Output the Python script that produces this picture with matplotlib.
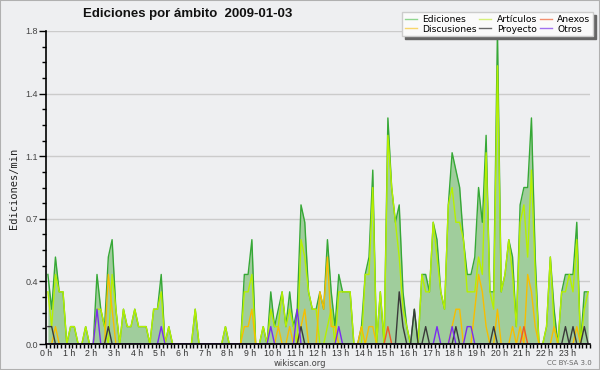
import numpy as np
import matplotlib
matplotlib.use('Agg')
from matplotlib import pyplot as plt
from matplotlib.lines import Line2D
from matplotlib.patches import Rectangle
from matplotlib.ticker import MultipleLocator, FixedLocator

# edits per minute, 10-minute bins over 2009-01-03 (12 bins = 2 hours per row)
ediciones = [
    0.4, 0.2, 0.5, 0.3, 0.3, 0.0, 0.1, 0.1, 0.0, 0.0, 0.1, 0.0,
    0.0, 0.4, 0.2, 0.1, 0.5, 0.6, 0.2, 0.0, 0.2, 0.1, 0.1, 0.2,
    0.1, 0.1, 0.1, 0.0, 0.2, 0.2, 0.4, 0.0, 0.1, 0.0, 0.0, 0.0,
    0.0, 0.0, 0.0, 0.2, 0.0, 0.0, 0.0, 0.0, 0.0, 0.0, 0.0, 0.1,
    0.0, 0.0, 0.0, 0.0, 0.4, 0.4, 0.6, 0.0, 0.0, 0.1, 0.0, 0.3,
    0.1, 0.2, 0.3, 0.1, 0.3, 0.1, 0.2, 0.8, 0.7, 0.3, 0.2, 0.2,
    0.3, 0.2, 0.6, 0.3, 0.1, 0.4, 0.3, 0.3, 0.3, 0.0, 0.0, 0.1,
    0.4, 0.5, 1.0, 0.0, 0.3, 0.0, 1.3, 0.9, 0.7, 0.8, 0.3, 0.1,
    0.0, 0.2, 0.0, 0.4, 0.4, 0.3, 0.7, 0.6, 0.3, 0.2, 0.8, 1.1,
    1.0, 0.9, 0.6, 0.4, 0.4, 0.5, 0.9, 0.7, 1.2, 0.3, 0.3, 1.8,
    0.3, 0.4, 0.6, 0.5, 0.1, 0.8, 0.9, 0.9, 1.3, 0.5, 0.0, 0.0,
    0.1, 0.5, 0.2, 0.0, 0.3, 0.4, 0.4, 0.4, 0.7, 0.0, 0.3, 0.3,
]
articulos = [
    0.3, 0.1, 0.4, 0.3, 0.3, 0.0, 0.1, 0.1, 0.0, 0.0, 0.1, 0.0,
    0.0, 0.2, 0.2, 0.1, 0.0, 0.4, 0.2, 0.0, 0.2, 0.1, 0.1, 0.2,
    0.1, 0.1, 0.1, 0.0, 0.2, 0.2, 0.3, 0.0, 0.1, 0.0, 0.0, 0.0,
    0.0, 0.0, 0.0, 0.2, 0.0, 0.0, 0.0, 0.0, 0.0, 0.0, 0.0, 0.1,
    0.0, 0.0, 0.0, 0.0, 0.3, 0.3, 0.4, 0.0, 0.0, 0.1, 0.0, 0.2,
    0.1, 0.1, 0.3, 0.1, 0.2, 0.1, 0.0, 0.6, 0.5, 0.3, 0.2, 0.2,
    0.0, 0.0, 0.1, 0.2, 0.0, 0.3, 0.3, 0.3, 0.3, 0.0, 0.0, 0.0,
    0.4, 0.4, 0.9, 0.0, 0.3, 0.0, 1.2, 0.9, 0.7, 0.5, 0.2, 0.1,
    0.0, 0.0, 0.0, 0.4, 0.3, 0.3, 0.7, 0.5, 0.3, 0.2, 0.8, 0.9,
    0.7, 0.7, 0.6, 0.3, 0.3, 0.3, 0.5, 0.4, 1.1, 0.3, 0.2, 1.6,
    0.3, 0.4, 0.6, 0.4, 0.1, 0.7, 0.8, 0.5, 1.0, 0.4, 0.0, 0.0,
    0.1, 0.5, 0.1, 0.0, 0.3, 0.3, 0.4, 0.3, 0.6, 0.0, 0.2, 0.3,
]
discusiones = [
    0.0, 0.0, 0.1, 0.0, 0.0, 0.0, 0.0, 0.0, 0.0, 0.0, 0.0, 0.0,
    0.0, 0.0, 0.0, 0.0, 0.4, 0.2, 0.0, 0.0, 0.0, 0.0, 0.0, 0.0,
    0.0, 0.0, 0.0, 0.0, 0.0, 0.0, 0.0, 0.0, 0.0, 0.0, 0.0, 0.0,
    0.0, 0.0, 0.0, 0.0, 0.0, 0.0, 0.0, 0.0, 0.0, 0.0, 0.0, 0.0,
    0.0, 0.0, 0.0, 0.0, 0.1, 0.1, 0.2, 0.0, 0.0, 0.0, 0.0, 0.0,
    0.0, 0.1, 0.0, 0.0, 0.1, 0.0, 0.0, 0.1, 0.2, 0.0, 0.0, 0.0,
    0.3, 0.2, 0.5, 0.1, 0.1, 0.0, 0.0, 0.0, 0.0, 0.0, 0.0, 0.1,
    0.0, 0.1, 0.1, 0.0, 0.0, 0.0, 0.0, 0.0, 0.0, 0.0, 0.0, 0.0,
    0.0, 0.0, 0.0, 0.0, 0.0, 0.0, 0.0, 0.0, 0.0, 0.0, 0.0, 0.1,
    0.2, 0.2, 0.0, 0.0, 0.0, 0.2, 0.4, 0.3, 0.1, 0.0, 0.0, 0.2,
    0.0, 0.0, 0.0, 0.1, 0.0, 0.1, 0.0, 0.4, 0.3, 0.1, 0.0, 0.0,
    0.0, 0.0, 0.1, 0.0, 0.0, 0.0, 0.0, 0.0, 0.1, 0.0, 0.0, 0.0,
]
anexos = [
    0.0, 0.0, 0.0, 0.0, 0.0, 0.0, 0.0, 0.0, 0.0, 0.0, 0.0, 0.0,
    0.0, 0.0, 0.0, 0.0, 0.0, 0.0, 0.0, 0.0, 0.0, 0.0, 0.0, 0.0,
    0.0, 0.0, 0.0, 0.0, 0.0, 0.0, 0.0, 0.0, 0.0, 0.0, 0.0, 0.0,
    0.0, 0.0, 0.0, 0.0, 0.0, 0.0, 0.0, 0.0, 0.0, 0.0, 0.0, 0.0,
    0.0, 0.0, 0.0, 0.0, 0.0, 0.0, 0.0, 0.0, 0.0, 0.0, 0.0, 0.0,
    0.0, 0.0, 0.0, 0.0, 0.0, 0.0, 0.0, 0.0, 0.0, 0.0, 0.0, 0.0,
    0.0, 0.0, 0.0, 0.0, 0.0, 0.0, 0.0, 0.0, 0.0, 0.0, 0.0, 0.0,
    0.0, 0.0, 0.0, 0.0, 0.0, 0.0, 0.1, 0.0, 0.0, 0.0, 0.0, 0.0,
    0.0, 0.0, 0.0, 0.0, 0.0, 0.0, 0.0, 0.0, 0.0, 0.0, 0.0, 0.0,
    0.0, 0.0, 0.0, 0.0, 0.0, 0.0, 0.0, 0.0, 0.0, 0.0, 0.0, 0.0,
    0.0, 0.0, 0.0, 0.0, 0.0, 0.0, 0.1, 0.0, 0.0, 0.0, 0.0, 0.0,
    0.0, 0.0, 0.0, 0.0, 0.0, 0.0, 0.0, 0.0, 0.0, 0.0, 0.0, 0.0,
]
proyecto = [
    0.1, 0.1, 0.0, 0.0, 0.0, 0.0, 0.0, 0.0, 0.0, 0.0, 0.0, 0.0,
    0.0, 0.0, 0.0, 0.0, 0.1, 0.0, 0.0, 0.0, 0.0, 0.0, 0.0, 0.0,
    0.0, 0.0, 0.0, 0.0, 0.0, 0.0, 0.0, 0.0, 0.0, 0.0, 0.0, 0.0,
    0.0, 0.0, 0.0, 0.0, 0.0, 0.0, 0.0, 0.0, 0.0, 0.0, 0.0, 0.0,
    0.0, 0.0, 0.0, 0.0, 0.0, 0.0, 0.0, 0.0, 0.0, 0.0, 0.0, 0.0,
    0.0, 0.0, 0.0, 0.0, 0.0, 0.0, 0.0, 0.1, 0.0, 0.0, 0.0, 0.0,
    0.0, 0.0, 0.0, 0.0, 0.0, 0.0, 0.0, 0.0, 0.0, 0.0, 0.0, 0.0,
    0.0, 0.0, 0.0, 0.0, 0.0, 0.0, 0.0, 0.0, 0.0, 0.3, 0.1, 0.0,
    0.0, 0.2, 0.0, 0.0, 0.1, 0.0, 0.0, 0.0, 0.0, 0.0, 0.0, 0.0,
    0.1, 0.0, 0.0, 0.0, 0.0, 0.0, 0.0, 0.0, 0.0, 0.0, 0.1, 0.0,
    0.0, 0.0, 0.0, 0.0, 0.0, 0.0, 0.0, 0.0, 0.0, 0.0, 0.0, 0.0,
    0.0, 0.0, 0.0, 0.0, 0.0, 0.1, 0.0, 0.1, 0.0, 0.0, 0.1, 0.0,
]
otros = [
    0.0, 0.0, 0.0, 0.0, 0.0, 0.0, 0.0, 0.0, 0.0, 0.0, 0.0, 0.0,
    0.0, 0.2, 0.0, 0.0, 0.0, 0.0, 0.0, 0.0, 0.0, 0.0, 0.0, 0.0,
    0.0, 0.0, 0.0, 0.0, 0.0, 0.0, 0.1, 0.0, 0.0, 0.0, 0.0, 0.0,
    0.0, 0.0, 0.0, 0.0, 0.0, 0.0, 0.0, 0.0, 0.0, 0.0, 0.0, 0.0,
    0.0, 0.0, 0.0, 0.0, 0.0, 0.0, 0.0, 0.0, 0.0, 0.0, 0.0, 0.1,
    0.0, 0.0, 0.0, 0.0, 0.0, 0.0, 0.2, 0.0, 0.0, 0.0, 0.0, 0.0,
    0.0, 0.0, 0.0, 0.0, 0.0, 0.1, 0.0, 0.0, 0.0, 0.0, 0.0, 0.0,
    0.0, 0.0, 0.0, 0.0, 0.0, 0.0, 0.0, 0.0, 0.0, 0.0, 0.0, 0.0,
    0.0, 0.0, 0.0, 0.0, 0.0, 0.0, 0.0, 0.1, 0.0, 0.0, 0.0, 0.1,
    0.0, 0.0, 0.0, 0.1, 0.1, 0.0, 0.0, 0.0, 0.0, 0.0, 0.0, 0.0,
    0.0, 0.0, 0.0, 0.0, 0.0, 0.0, 0.0, 0.0, 0.0, 0.0, 0.0, 0.0,
    0.0, 0.0, 0.0, 0.0, 0.0, 0.0, 0.0, 0.0, 0.0, 0.0, 0.0, 0.0,
]

hour_labels = ['%d h' % h for h in range(24)]
ytick_labels = ['0.0', '0.4', '0.7', '1.1', '1.4', '1.8']
ymax = 1.8

bg = '#eeeff1'
tickfont = ['Liberation Sans Narrow', 'Liberation Sans', 'DejaVu Sans']

x = np.arange(len(ediciones)) / 6 + 1 / 12

fig = plt.figure(figsize=(6, 3.7), dpi=100, facecolor=bg)
ax = fig.add_axes([46 / 600, 1 - 344 / 370, 544 / 600, 313 / 370])
ax.set_facecolor(bg)

ax.fill_between(x, ediciones, color='#a0cd9c', lw=0, zorder=2)
ax.plot(x, ediciones, color='#36a836', lw=1.0, zorder=3)
ax.plot(x, articulos, color='#b6f000', lw=1.0, zorder=4)
ax.plot(x, discusiones, color='#f7be00', lw=1.0, zorder=5)
ax.plot(x, anexos, color='#f05a24', lw=1.0, zorder=6)
ax.plot(x, proyecto, color='#3a3a3a', lw=1.0, zorder=6)
ax.plot(x, otros, color='#7a2cf0', lw=1.0, zorder=7)

ax.set_xlim(0, 24)
ax.set_ylim(0, ymax)

ax.set_xticks(range(24), labels=hour_labels)
ax.xaxis.set_minor_locator(MultipleLocator(1 / 6))
ax.set_yticks([ymax * k / 5 for k in range(6)], labels=ytick_labels)
ax.yaxis.set_minor_locator(FixedLocator([ymax * k / 20 for k in range(21)]))

ax.tick_params(axis='x', which='major', length=3, width=1, pad=0.5,
               labelsize=6.3, labelcolor='#333333')
ax.tick_params(axis='x', which='minor', length=3, width=1)
ax.tick_params(axis='y', which='major', length=5, width=1, pad=1,
               labelsize=6.5, labelcolor='#444444')
ax.tick_params(axis='y', which='minor', length=3, width=1)
for lab in ax.get_xticklabels() + ax.get_yticklabels():
    lab.set_family(tickfont)

for side in ('top', 'right'):
    ax.spines[side].set_visible(False)
for side in ('left', 'bottom'):
    ax.spines[side].set_linewidth(1.2)
    ax.spines[side].set_zorder(8)

ax.yaxis.grid(True, color='#cbcbcb', lw=1.0, zorder=1)
ax.set_axisbelow(True)

fig.text(188 / 600, 1 - 14 / 370, 'Ediciones por ámbito  2009-01-03',
         ha='center', va='center', fontsize=9.5, fontweight='bold',
         family=['Liberation Sans', 'DejaVu Sans'], color='#111111')
fig.text(14 / 600, 1 - 188 / 370, 'Ediciones/min', rotation=90,
         ha='center', va='center', fontsize=7.5, family='DejaVu Sans Mono',
         color='#222222')
fig.text(300 / 600, 1 - 363.5 / 370, 'wikiscan.org', ha='center', va='center',
         fontsize=6, color='#444444')
fig.text(569 / 600, 1 - 363 / 370, 'CC BY-SA 3.0', ha='center', va='center',
         fontsize=5, color='#666666')

handles = [
    Line2D([], [], color='#8fd68f', lw=1),
    Line2D([], [], color='#f8d66a', lw=1),
    Line2D([], [], color='#d6f07a', lw=1),
    Line2D([], [], color='#666666', lw=1),
    Line2D([], [], color='#f39070', lw=1),
    Line2D([], [], color='#a070f0', lw=1),
]
labels = ['Ediciones', 'Discusiones', 'Artículos', 'Proyecto', 'Anexos', 'Otros']
fig.legend(handles, labels, ncol=3, loc='upper right',
           bbox_to_anchor=(593 / 600, 1 - 12 / 370), fontsize=6.6,
           frameon=True, fancybox=False,
           shadow={'color': '#666666', 'alpha': 1},
           facecolor='#fafafa', edgecolor='#cccccc', framealpha=1,
           borderpad=0.3, handlelength=1.3, handletextpad=0.6,
           columnspacing=0.3, labelspacing=0.1, borderaxespad=0)

fig.add_artist(Rectangle((0, 0), 1, 1, transform=fig.transFigure, fill=False,
                         edgecolor='#b0b0b0', lw=1.5))

fig.savefig('out.png', dpi=100, facecolor=bg)
